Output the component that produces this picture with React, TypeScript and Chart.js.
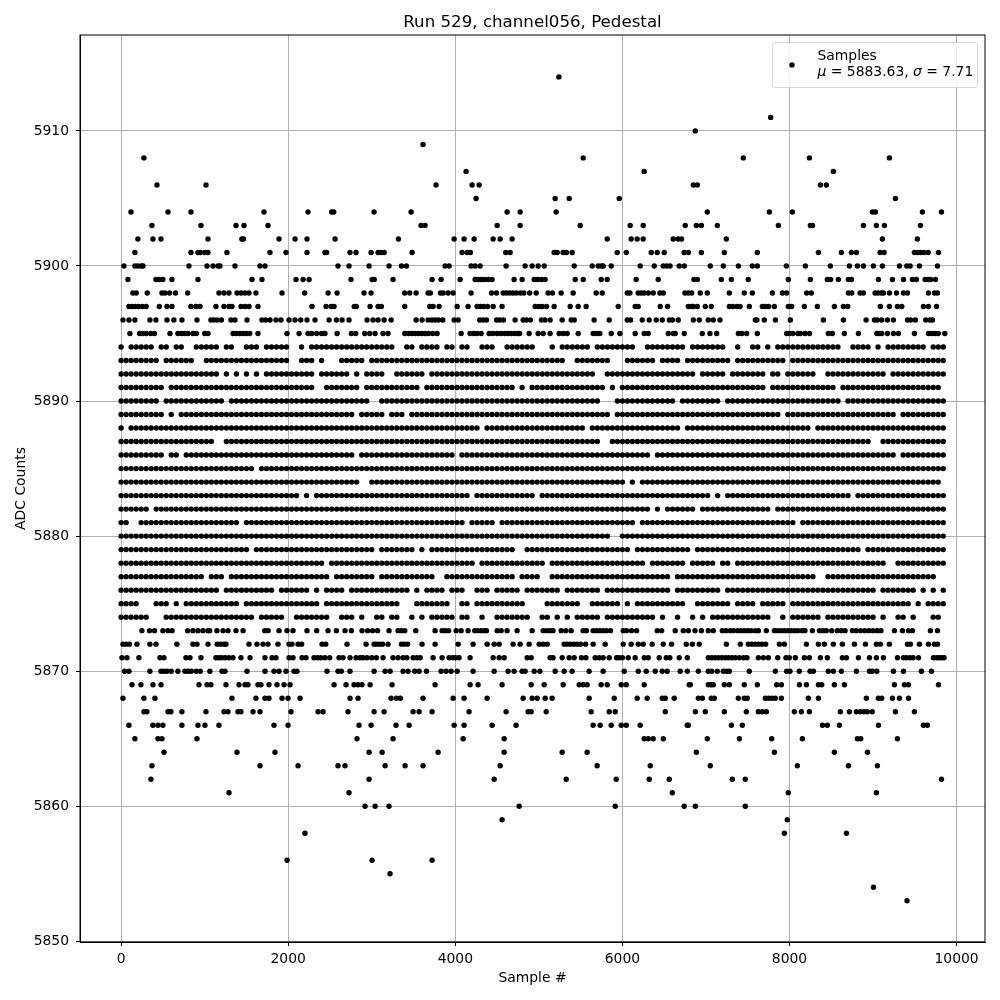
import React, { useEffect, useRef } from "react";
import { Chart, registerables } from "chart.js";

Chart.register(...registerables);

const chartTitle = "Run 529, channel056, Pedestal";
const xTitle = "Sample #";
const yTitle = "ADC Counts";
const xTickValues = [0, 2000, 4000, 6000, 8000, 10000];
const yTickValues = [5850, 5860, 5870, 5880, 5890, 5900, 5910];
const legendName = "Samples";
const legendMean = "5883.63";
const legendSigma = "7.71";

// Sparse levels: sample numbers estimated one by one from zooms of the picture.
const upper5914 = [5240];
const upper5911 = [7775];
const upper5910 = [6873];
const upper5909 = [3614];
const upper5908 = [273, 5531, 7447, 8238, 9196];
const upper5907 = [4129, 6261, 8525];
const upper5906 = [429, 1016, 3770, 4201, 4285, 6849, 6897, 8370, 8441];
const upper5905 = [4249, 5195, 5363, 5962, 9268];
const upper5904 = [118, 561, 836, 1710, 2237, 2520, 2545, 3028, 3471, 4620, 4776, 5207, 7016, 7759, 8034, 8993, 9028, 9591, 9819];
const upper5903 = [369, 956, 1375, 1471, 1758, 3590, 3638, 4501, 4776, 5495, 6093, 6249, 6752, 6885, 6945, 7136, 7867, 8250, 8275, 8885, 9040, 9136, 9567];
const upper5902 = [201, 381, 477, 1040, 1445, 1465, 1890, 2082, 2225, 2561, 3319, 3986, 4105, 4225, 4453, 4537, 4680, 5818, 6105, 6177, 6249, 6608, 6668, 6708, 7244, 9112, 9531];
const upper5901 = [165, 836, 920, 950, 1003, 1040, 1267, 1782, 1974, 2225, 2440, 2460, 2740, 2812, 2992, 3076, 3112, 3148, 3483, 4081, 4141, 4181, 4604, 4656, 5183, 5220, 5290, 5330, 5399, 5938, 6046, 6345, 6417, 6501, 6740, 6790, 6945, 7220, 7615, 8346, 8621, 8741, 8801, 9084, 9132, 9495, 9535, 9570, 9610, 9660, 9783];
const upper5900 = [34, 165, 200, 240, 262, 812, 1028, 1100, 1160, 1183, 1363, 1662, 1722, 2596, 2728, 2968, 3207, 3355, 3415, 3878, 3926, 4189, 4237, 4297, 4608, 4836, 4920, 4992, 5064, 5423, 5638, 5710, 5750, 5770, 5866, 6213, 6381, 6489, 6530, 6570, 6680, 6741, 7052, 7208, 7388, 7555, 7615, 7962, 8190, 8489, 8717, 8813, 8885, 9004, 9112, 9316, 9404, 9444, 9555, 9771];
const upper5899 = [82, 417, 453, 500, 608, 920, 1567, 1686, 2094, 2178, 2250, 2752, 3005, 3030, 3255, 3722, 3830, 4058, 4237, 4275, 4310, 4350, 4395, 4440, 4704, 4800, 4944, 4985, 5030, 5075, 5435, 5531, 5746, 5818, 6165, 6429, 6857, 6897, 7184, 7304, 7507, 7986, 8250, 8453, 8493, 8585, 8705, 8741, 9064, 9232, 9364, 9471, 9519, 9623, 9660, 9690, 9747];
const upper5898 = [141, 181, 313, 489, 525, 581, 652, 796, 1171, 1231, 1291, 1387, 1435, 1483, 1531, 1614, 1926, 2197, 2477, 2585, 2908, 2992, 3395, 3455, 3531, 3674, 3702, 3822, 3854, 3914, 3974, 4189, 4433, 4493, 4573, 4610, 4650, 4690, 4730, 4780, 4820, 4890, 4968, 5111, 5163, 5267, 5411, 5686, 5758, 6058, 6090, 6189, 6225, 6260, 6310, 6369, 6449, 6489, 6749, 6790, 6829, 6932, 7016, 7280, 7459, 7555, 7795, 7915, 7966, 8206, 8262, 8705, 8745, 8845, 8885, 9024, 9060, 9100, 9124, 9196, 9280, 9364, 9412, 9663, 9735, 9771];
const upper5897 = [94, 130, 170, 210, 255, 300, 457, 549, 608, 836, 896, 944, 1135, 1231, 1291, 1327, 1435, 1483, 1531, 1638, 2285, 2453, 2513, 2549, 2790, 2815, 2980, 3076, 3115, 3395, 3694, 3734, 3806, 4022, 4153, 4261, 4300, 4340, 4385, 4453, 4560, 4956, 5000, 5040, 5092, 5183, 5375, 5471, 5566, 5950, 6153, 6189, 6453, 6541, 6789, 6829, 6849, 6897, 6992, 7064, 7280, 7320, 7370, 7408, 7519, 7675, 7710, 7750, 7819, 7986, 8026, 8178, 8334, 8537, 8645, 8697, 9088, 9196, 9292, 9344, 9603, 9663, 9759];
const upper5896 = [22, 94, 165, 345, 417, 549, 632, 728, 908, 1075, 1110, 1150, 1200, 1315, 1363, 1507, 1686, 1730, 1782, 1854, 1914, 2010, 2082, 2150, 2225, 2321, 2489, 2577, 2645, 2728, 2944, 3016, 3076, 3148, 3232, 3531, 3602, 3674, 3720, 3760, 3800, 3850, 3986, 4034, 4293, 4335, 4375, 4493, 4530, 4575, 4716, 4812, 4850, 4900, 5032, 5072, 5135, 5279, 5387, 5423, 5662, 5842, 6058, 6098, 6237, 6321, 6405, 6477, 6561, 6600, 6668, 6849, 6920, 7028, 7088, 7168, 7591, 7610, 7699, 7831, 8010, 8405, 8645, 8917, 9016, 9050, 9104, 9172, 9244, 9412, 9450, 9507, 9631, 9680, 9711];
const upper5895 = [105, 221, 260, 300, 355, 400, 585, 680, 720, 760, 800, 860, 900, 1000, 1040, 1340, 1380, 1420, 1460, 1500, 1540, 1638, 1986, 2130, 2237, 2280, 2340, 2400, 2440, 2585, 2756, 2808, 2916, 2976, 3040, 3135, 3195, 3395, 3440, 3480, 3520, 3560, 3600, 3640, 3680, 3730, 3782, 4070, 4177, 4220, 4260, 4310, 4405, 4450, 4500, 4545, 4590, 4630, 4670, 4710, 4750, 4770, 4884, 4992, 5052, 5135, 5243, 5291, 5339, 5471, 5650, 5690, 5730, 5866, 5970, 6153, 6261, 6309, 6549, 6610, 6632, 6741, 6956, 7048, 7128, 7388, 7430, 7487, 7615, 7966, 8000, 8040, 8100, 8130, 8185, 8240, 8465, 8513, 8657, 8825, 9045, 9080, 9104, 9172, 9244, 9304, 9495, 9663, 9700, 9740, 9780, 9859];
const lower5873 = [249, 340, 400, 500, 560, 610, 796, 860, 920, 980, 1040, 1060, 1147, 1220, 1280, 1375, 1460, 1720, 1760, 1890, 1986, 2058, 2225, 2341, 2477, 2577, 2680, 2756, 2884, 2950, 3010, 3070, 3207, 3315, 3355, 3395, 3527, 3758, 3842, 3880, 3920, 4010, 4070, 4153, 4233, 4270, 4310, 4350, 4373, 4501, 4549, 4620, 4740, 4920, 5052, 5095, 5135, 5170, 5267, 5323, 5387, 5530, 5570, 5650, 5690, 5730, 5770, 5810, 5858, 6010, 6050, 6110, 6170, 6417, 6470, 6632, 6729, 6789, 6869, 6945, 7028, 7088, 7196, 7240, 7290, 7330, 7380, 7420, 7460, 7500, 7540, 7590, 7628, 7723, 7819, 7860, 7900, 7940, 7980, 8020, 8060, 8100, 8150, 8185, 8274, 8358, 8400, 8440, 8505, 8573, 8620, 8665, 8753, 8800, 8850, 8900, 8950, 9000, 9050, 9095, 9256, 9352, 9424, 9471, 9687, 9771];
const lower5872 = [22, 60, 100, 189, 345, 417, 668, 860, 908, 1040, 1150, 1190, 1230, 1255, 1531, 1626, 1698, 1758, 1878, 2010, 2045, 2118, 2160, 2405, 2449, 2704, 2932, 3028, 3060, 3095, 3130, 3195, 3355, 3390, 3430, 3602, 3758, 4034, 4213, 4381, 4465, 4525, 4692, 4776, 4884, 5004, 5052, 5100, 5303, 5340, 5380, 5420, 5460, 5500, 5560, 5650, 5794, 6010, 6105, 6190, 6250, 6357, 6489, 6588, 6764, 6837, 6920, 7244, 7412, 7507, 7550, 7590, 7630, 7670, 7715, 7879, 7939, 8202, 8346, 8418, 8525, 8633, 8777, 8909, 9040, 9088, 9196, 9412, 9447, 9555, 9663, 9735, 9771];
const lower5871 = [10, 70, 213, 465, 513, 776, 824, 956, 1135, 1170, 1205, 1245, 1290, 1339, 1435, 1543, 1722, 1806, 1854, 2010, 2058, 2165, 2213, 2309, 2350, 2390, 2440, 2497, 2608, 2656, 2740, 2812, 2860, 2895, 2944, 3000, 3055, 3135, 3255, 3315, 3375, 3420, 3495, 3540, 3580, 3734, 3842, 3926, 3970, 4005, 4045, 4177, 4453, 4525, 4585, 4860, 4908, 5135, 5170, 5279, 5363, 5423, 5510, 5563, 5674, 5722, 5770, 5842, 5930, 5960, 6000, 6070, 6153, 6261, 6309, 6441, 6525, 6568, 6680, 6777, 7028, 7070, 7110, 7150, 7190, 7230, 7270, 7310, 7350, 7400, 7450, 7490, 7627, 7687, 7747, 7859, 7958, 7998, 8070, 8178, 8238, 8370, 8453, 8633, 8681, 8825, 8957, 9040, 9124, 9292, 9364, 9400, 9440, 9480, 9544, 9723, 9760, 9790, 9820, 9850];
const lower5870 = [42, 94, 345, 477, 510, 550, 600, 680, 764, 800, 840, 900, 948, 1063, 1207, 1243, 1507, 1722, 1830, 1890, 1974, 2070, 2105, 2465, 2596, 2636, 2740, 3028, 3160, 3220, 3375, 3435, 3515, 3567, 3655, 3830, 3890, 3950, 4022, 4213, 4465, 4632, 4704, 4800, 4836, 4944, 5012, 5195, 5303, 5399, 5602, 5770, 6022, 6190, 6285, 6393, 6477, 6537, 6692, 6777, 6909, 7028, 7068, 7136, 7208, 7250, 7280, 7519, 7831, 7966, 8006, 8118, 8246, 8286, 8465, 8525, 8621, 8801, 8957, 8990, 9045, 9244, 9364, 9579, 9699];
const lower5869 = [130, 237, 381, 477, 932, 1028, 1075, 1255, 1411, 1483, 1519, 1638, 1674, 1770, 1866, 1950, 2022, 2549, 2692, 2788, 2836, 2884, 2980, 3243, 3758, 4177, 4273, 4560, 4908, 5064, 5291, 5483, 5531, 5578, 5746, 5818, 5986, 6046, 6261, 6800, 6813, 7028, 7060, 7088, 7220, 7280, 7459, 7615, 7847, 7903, 8118, 8202, 8346, 8386, 8537, 8657, 9256, 9376, 9424, 9783];
const lower5868 = [22, 273, 405, 1327, 1614, 1722, 1770, 1926, 1998, 2142, 2740, 2836, 3231, 3295, 3343, 3614, 3974, 4105, 4381, 4812, 4920, 4980, 5076, 5159, 5602, 5902, 6177, 6297, 6477, 6513, 6620, 6909, 6957, 7064, 7100, 7388, 7459, 7495, 7711, 7750, 7790, 7830, 7903, 8226, 8346, 8920, 9064, 9104, 9232, 9316, 9424];
const lower5867 = [273, 309, 561, 597, 728, 1016, 1231, 1279, 1399, 1435, 1579, 1662, 2034, 2357, 2417, 2716, 3028, 3148, 3495, 3567, 3722, 4165, 4608, 4872, 4908, 5088, 5626, 5842, 5914, 6513, 6873, 6992, 7220, 7483, 7627, 7675, 7723, 8058, 8142, 8238, 8609, 8717, 8801, 8850, 8890, 8930, 8990, 9268, 9495];
const lower5866 = [94, 381, 441, 500, 728, 920, 1004, 1171, 1830, 1998, 2848, 2992, 3291, 3447, 3986, 4105, 4441, 4728, 5650, 5734, 5866, 5986, 6046, 6213, 6776, 6789, 7304, 7436, 8394, 8453, 8597, 9064, 9603, 9651];
const lower5865 = [165, 441, 489, 908, 2824, 3255, 4093, 4585, 6261, 6309, 6369, 6489, 7016, 7400, 7787, 8154, 8813, 8853, 9292];
const lower5864 = [513, 1387, 1842, 2968, 3124, 3794, 4585, 5279, 5578, 6885, 7819, 8537, 8933];
const lower5863 = [369, 1662, 2118, 2596, 2680, 3160, 3399, 3614, 4537, 5698, 6333, 7052, 8094, 8705, 9052];
const lower5862 = [357, 2968, 4465, 5327, 5926, 6321, 6561, 7316, 7471, 9819];
const lower5861 = [1291, 2728, 6597, 7986, 9040];
const lower5860 = [2920, 3040, 3207, 4764, 5914, 6740, 6873, 7471];
const lower5859 = [4560, 7974];
const lower5858 = [2201, 7938, 8681];
const lower5856 = [1986, 3004, 3722];
const lower5855 = [3219];
const lower5854 = [9005];
const lower5853 = [9407];

// Dense levels 5874-5894: far too tightly packed to read sample by sample, so
// each is transcribed by eye from the zooms as occupancy strings, one character
// per 60 samples ('#' = a mark in that bin). It is a reduced-resolution reading
// of the picture: roughly 3,000 marks here stand for the original's ~10,000.
const dense5894 = ["#.#####.##.##..#####.##..###.#####..#.#################.", ".##.####.##.##..###..######...#.######.########..#######", "#.#######..#..##.#.#############..####.#.########.###."];
const dense5893 = ["########.######..#################..###.#...#####.#######", ".################################..#######...######.####", ".#########.##########.###############################."];
const dense5892 = ["####################.#.#.#.#.##########.######.#.####..#", "#####.#################################..###############", "###.#####.#######.##.######..############.###########."];
const dense5891 = ["#########.#############################..#######.#######", "####.##################.#.###############.#.############", "#################.#############.####################.."];
const dense5890 = ["########.############.############################..####", "########################################...############.", "########.#######################.####################."];
const dense5889 = ["#########.#.###################################.#####.##", "#.########################################.#############", "####################.######################.#########."];
const dense5888 = ["#.######################################################", "################.####################.##################", ".#########################.##########################."];
const dense5887 = ["###################..###################################", "########################################..##############", "######################################..#############."];
const dense5886 = ["#########.##.##################################.########", "###########.######################################.#####", "###########################################.#########."];
const dense5885 = ["###########################.############################", "########################################################", "#####################################################."];
const dense5884 = ["################################################..######", "#############################################.#.########", "####################################################.."];
const dense5883 = ["####################################.#.#################", "##############.############.############################", "######.#.#########################.##################."];
const dense5882 = ["######.#################################################", "##################################################.#.###", "###.##############.##################################."];
const dense5881 = ["##..####################.###############################", "#############.#####.###########################.########", "#######################.#############################."];
const dense5880 = ["########################################################", "##########################################..############", "#####################################################."];
const dense5879 = ["##########################.########################.####", "###.#.#################..#####################.#########", "##.#################################.################."];
const dense5878 = ["#########################################.##############", "###############.#############.###################.######", "#.#####.##.##############################..##########."];
const dense5877 = ["#################.###.####################.########.####", "#######..##############.####..########################.#", "###########################..######################..."];
const dense5876 = ["####################.##########.######.#.####.##########", "##.#.####.###..###.#####.#######.#######.#############.#", "########.##############################.#######.#.#.#."];
const dense5875 = ["####...###.#.###########.###############.###############", "...#######..##.##########....#######..######.#.#########", "#..#######.####.#####.########################.#.####."];
const dense5874 = ["######...##################.#####..#######..###.#..##.##", "..#.#.#####.##..#..#######..##.#.#.#####.##########.#..#", "..#.#.############..#.######.##########.#..##.#...##.."];

const sparseLevels: [number, number[]][] = [
  [5914, upper5914], [5911, upper5911], [5910, upper5910], [5909, upper5909], [5908, upper5908],
  [5907, upper5907], [5906, upper5906], [5905, upper5905], [5904, upper5904], [5903, upper5903],
  [5902, upper5902], [5901, upper5901], [5900, upper5900], [5899, upper5899], [5898, upper5898],
  [5897, upper5897], [5896, upper5896], [5895, upper5895], [5873, lower5873], [5872, lower5872],
  [5871, lower5871], [5870, lower5870], [5869, lower5869], [5868, lower5868], [5867, lower5867],
  [5866, lower5866], [5865, lower5865], [5864, lower5864], [5863, lower5863], [5862, lower5862],
  [5861, lower5861], [5860, lower5860], [5859, lower5859], [5858, lower5858], [5856, lower5856],
  [5855, lower5855], [5854, lower5854], [5853, lower5853],
];
const denseLevels: [number, string[]][] = [
  [5894, dense5894], [5893, dense5893], [5892, dense5892], [5891, dense5891], [5890, dense5890],
  [5889, dense5889], [5888, dense5888], [5887, dense5887], [5886, dense5886], [5885, dense5885],
  [5884, dense5884], [5883, dense5883], [5882, dense5882], [5881, dense5881], [5880, dense5880],
  [5879, dense5879], [5878, dense5878], [5877, dense5877], [5876, dense5876], [5875, dense5875],
  [5874, dense5874],
];
const sectionStartBins = [0, 56, 112];
const samplesPerBin = 60;

function buildPoints() {
  const pts: { x: number; y: number }[] = [];
  sparseLevels.forEach(([y, xs]) => xs.forEach((x) => pts.push({ x, y })));
  denseLevels.forEach(([y, sections]) =>
    sections.forEach((text, s) => {
      for (let i = 0; i < text.length; i++) {
        if (text[i] === "#") pts.push({ x: (sectionStartBins[s] + i) * samplesPerBin, y });
      }
    })
  );
  return pts;
}

const FONT = '"DejaVu Sans"';

const framePlugin = {
  id: "frameAndLegend",
  afterDraw(chart: any) {
    const { ctx, chartArea: a } = chart;
    ctx.save();
    // Legend box
    const bx = 772.5, by = 42.5, bw = 205, bh = 45;
    ctx.beginPath();
    ctx.roundRect(bx, by, bw, bh, 3);
    ctx.fillStyle = "rgba(255,255,255,0.8)";
    ctx.fill();
    ctx.strokeStyle = "rgba(204,204,204,0.8)";
    ctx.lineWidth = 1;
    ctx.stroke();
    ctx.fillStyle = "#000";
    ctx.beginPath();
    ctx.arc(792, 65, 2.7, 0, Math.PI * 2);
    ctx.fill();
    ctx.textBaseline = "alphabetic";
    ctx.textAlign = "left";
    const size = "13.9px ";
    ctx.font = size + FONT;
    ctx.fillText(legendName, 817.5, 59.5);
    let x = 817.5;
    const y = 76;
    const parts: [string, boolean][] = [
      ["\u03bc", true],
      [" = " + legendMean + ", ", false],
      ["\u03c3", true],
      [" = " + legendSigma, false],
    ];
    parts.forEach(([t, it]) => {
      ctx.font = (it ? "italic " : "") + size + FONT;
      ctx.fillText(t, x, y);
      x += ctx.measureText(t).width;
    });
    // Frame
    ctx.strokeStyle = "#000";
    ctx.lineWidth = 1;
    ctx.strokeRect(a.left, a.top, a.right - a.left, a.bottom - a.top);
    ctx.restore();
  },
};

export default function App() {
  const ref = useRef<HTMLCanvasElement>(null);
  useEffect(() => {
    if (!ref.current) return;
    const tickFont = { family: FONT, size: 13.9 };
    const plainLabel = (v: any) => String(v);
    const chart = new Chart(ref.current, {
      type: "scatter",
      data: {
        datasets: [
          {
            label: legendName,
            data: buildPoints(),
            pointRadius: 2.7,
            pointBorderWidth: 0,
            pointBackgroundColor: "#000",
            showLine: false,
          },
        ],
      },
      options: {
        animation: false,
        responsive: false,
        events: [],
        layout: { padding: { left: 0, right: 15, top: 0, bottom: 0 } },
        plugins: {
          legend: { display: false },
          tooltip: { enabled: false },
          title: {
            display: true,
            fullSize: false,
            text: chartTitle,
            color: "#000",
            font: { family: FONT, size: 16.67, weight: "normal" },
            padding: { top: 13, bottom: 2 },
          },
        },
        scales: {
          x: {
            type: "linear",
            min: -492,
            max: 10340,
            afterBuildTicks: (s: any) => {
              s.ticks = xTickValues.map((value) => ({ value }));
            },
            afterFit: (s: any) => {
              s.height = 58;
            },
            ticks: { color: "#000", font: tickFont, padding: 5, maxRotation: 0, autoSkip: false, callback: plainLabel },
            grid: { color: "#b0b0b0", lineWidth: 1, tickColor: "#000", tickLength: 4 },
            border: { color: "#000" },
            title: { display: true, text: xTitle, color: "#000", font: tickFont, padding: { top: 4, bottom: 13 } },
          },
          y: {
            type: "linear",
            min: 5849.95,
            max: 5917.1,
            afterBuildTicks: (s: any) => {
              s.ticks = yTickValues.map((value) => ({ value }));
            },
            afterFit: (s: any) => {
              s.width = 80;
            },
            ticks: { color: "#000", font: tickFont, padding: 7, autoSkip: false, callback: plainLabel },
            grid: { color: "#b0b0b0", lineWidth: 1, tickColor: "#000", tickLength: 4 },
            border: { color: "#000" },
            title: { display: true, text: yTitle, color: "#000", font: tickFont, padding: { top: 13, bottom: 0 } },
          },
        },
      },
      plugins: [framePlugin],
    } as any);
    return () => chart.destroy();
  }, []);
  return (
    <div style={{ position: "absolute", left: 0, top: 0, width: 1000, height: 1000, background: "#fff" }}>
      <canvas ref={ref} width={1000} height={1000} style={{ display: "block" }} />
    </div>
  );
}
